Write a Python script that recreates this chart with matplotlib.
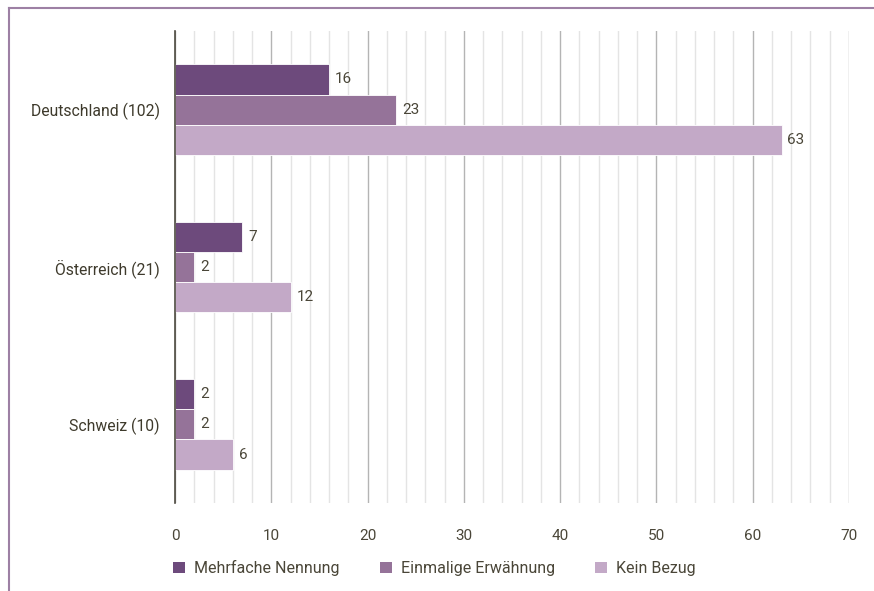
import matplotlib
matplotlib.use("Agg")
import matplotlib.pyplot as plt
from matplotlib.patches import Patch
from matplotlib.lines import Line2D
import numpy as np

countries = ["Deutschland (102)", "Österreich (21)", "Schweiz (10)"]
series = ["Mehrfache Nennung", "Einmalige Erwähnung", "Kein Bezug"]
mehrfach = [16, 7, 2]
einmalig = [23, 2, 2]
kein = [63, 12, 6]
colors = ["#6d4a7c", "#957399", "#c3a9c7"]
txt = "#4a4638"

plt.rcParams['font.family'] = ['Roboto', 'DejaVu Sans']

fig = plt.figure(figsize=(8.74, 5.91), dpi=100)
ax = fig.add_axes([175/874, 1-503/591, 674/874, 472/591])

y = np.arange(len(countries))
h = 0.192
for i, (vals, c) in enumerate(zip([mehrfach, einmalig, kein], colors)):
    pos = y + (i - 1) * h
    ax.barh(pos, vals, height=h, color=c, edgecolor="#ffffff", linewidth=0.6, zorder=3)
    for p, v in zip(pos, vals):
        ax.text(v + 0.6, p, str(v), va="center", ha="left", fontsize=11, color=txt)

ax.set_xlim(0, 70)
ax.set_ylim(2.5, -0.5)
ax.set_xticks(np.arange(0, 71, 10))
ax.set_xticks(np.arange(0, 71, 2), minor=True)
ax.grid(axis="x", which="minor", color="#e4e4e4", linewidth=1, zorder=0)
ax.grid(axis="x", which="major", color="#b4b4b4", linewidth=1, zorder=1)
ax.set_yticks(y)
ax.set_yticklabels(countries, fontsize=11.3, color="#3e3a2c")
ax.tick_params(axis="y", length=0, pad=11)
ax.tick_params(axis="x", which="both", length=0, pad=18.5, labelsize=11, labelcolor=txt)
for s in ["top", "right", "bottom"]:
    ax.spines[s].set_visible(False)
ax.spines["left"].set_color("#4d4a40")
ax.spines["left"].set_linewidth(1.2)
ax.spines["left"].set_zorder(4)

handles = [Patch(facecolor=c, edgecolor="none") for c in colors]
fig.legend(handles, series, loc="center", bbox_to_anchor=(0.497, 1-568/591), ncol=3,
           frameon=False, fontsize=11.5, handlelength=0.75, handleheight=0.75,
           handletextpad=0.55, columnspacing=2.55, labelcolor=txt)

# outer frame lines (top and left)
fig.add_artist(Line2D([9/874, 1], [1-8/591, 1-8/591], color="#9d80a4", linewidth=1.5))
fig.add_artist(Line2D([9/874, 9/874], [0, 1-8/591], color="#9d80a4", linewidth=1.5))

fig.savefig("out.png", dpi=100)
